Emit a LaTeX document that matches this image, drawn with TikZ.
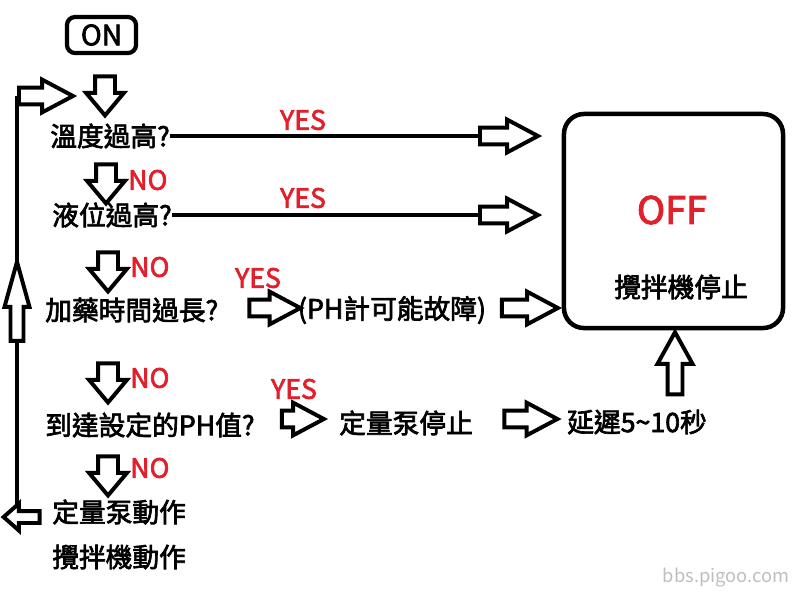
\documentclass[tikz,border=0pt]{standalone}
\usepackage{fontspec}
\setmainfont{Noto Sans CJK TC}[FakeBold=2.5]
\newfontfamily\markfont{Noto Sans CJK TC}
\usetikzlibrary{shapes.arrows,backgrounds}
\definecolor{yesred}{RGB}{226,32,44}
\definecolor{markgray}{RGB}{190,190,190}

\begin{document}
\begin{tikzpicture}[x=0.025cm,y=-0.025cm]
\tikzstyle{every node}+=[inner sep=0pt]
\tikzstyle{txt}=[font=\fontsize{19}{22}\selectfont]
\tikzstyle{ans}=[text=yesred,font=\fontsize{19}{22}\selectfont]
\tikzstyle{wire}=[line width=3pt]
\tikzstyle{panel}=[draw=black,line width=3pt,rounded corners=0.2cm]
\tikzstyle{blk}=[single arrow,draw=black,fill=white,line width=2.8pt,inner xsep=0pt,single arrow head indent=0pt]
\tikzstyle{harrow}=[blk,minimum height=1.45cm,inner ysep=0.16cm,single arrow head extend=0.2cm,single arrow tip angle=56]
\tikzstyle{varrow}=[blk,inner ysep=0pt]
\tikzstyle{darrow}=[varrow,minimum height=0.975cm,inner xsep=0.2cm,single arrow head extend=0.225cm,single arrow tip angle=80,shape border rotate=270]
\useasboundingbox (0,0) rectangle (799,600);
\node[panel,minimum width=1.725cm,minimum height=0.9cm,font=\fontsize{20}{22}\selectfont] (on) at (101.5,35) {ON};
\node[darrow] (d0) at (105,90) {};
\node[txt,anchor=west] (q1) at (50,136) {溫度過高?};
\node[harrow,anchor=tail] (y1) at (478,136) {};
\node[ans] (yes1) at (303,120) {YES};
\node[darrow] (d1) at (106,178) {};
\node[ans,anchor=west] (no1) at (128,180) {NO};
\node[txt,anchor=west] (q2) at (52,215) {液位過高?};
\node[harrow,anchor=tail] (y2) at (478,215) {};
\node[ans] (yes2) at (303,198) {YES};
\node[darrow] (d2) at (108,266) {};
\node[ans,anchor=west] (no2) at (130,267) {NO};
\node[txt,anchor=west] (q3) at (45,310) {加藥時間過長?};
\node[harrow,minimum height=1.275cm] (y3a) at (267,308) {};
\node[ans] (yes3) at (258,278) {YES};
\node[txt] (fault) at (392,310) {(PH計可能故障)};
\node[harrow,minimum height=1.4cm] (y3b) at (522,308) {};
\node[panel,line width=3.2pt,rounded corners=0.5cm,minimum width=5.475cm,minimum height=5.35cm] (off) at (673.5,221) {};
\node[text=yesred,font=\fontsize{27}{30}\selectfont] (offtxt) at (672,210) {OFF};
\node[txt] (mixstop) at (681,287) {攪拌機停止};
\node[varrow,minimum height=1.55cm,inner xsep=0.1375cm,single arrow head extend=0.25cm,single arrow tip angle=58,shape border rotate=90] (up2) at (675,370) {};
\node[darrow] (d3) at (108,377) {};
\node[ans,anchor=west] (no3) at (130,378) {NO};
\node[txt,anchor=west] (q4) at (45,425) {到達設定的PH值?};
\node[harrow,minimum height=1.05cm] (y4a) at (295,419) {};
\node[ans] (yes4) at (294,389) {YES};
\node[txt] (pumpstop) at (406,423) {定量泵停止};
\node[harrow,minimum height=1.325cm] (y4b) at (523,419) {};
\node[txt,anchor=west] (delay) at (567,422) {延遲5\textasciitilde10秒};
\node[darrow] (d4) at (108,470) {};
\node[ans,anchor=west] (no4) at (130,468) {NO};
\node[txt,anchor=west] (pumprun) at (52,512) {定量泵動作};
\node[txt,anchor=west] (mixrun) at (52,557) {攪拌機動作};
\node[blk,minimum height=0.9cm,inner ysep=0.1cm,single arrow head extend=0.19cm,single arrow tip angle=83,shape border rotate=180] (back) at (25,517) {};
\node[varrow,minimum height=1.975cm,inner xsep=0.1125cm,single arrow head extend=0.15cm,single arrow tip angle=31,shape border rotate=90] (up1) at (17,313) {};
\node[harrow,minimum height=1.35cm,anchor=tail] (again) at (17,96) {};
\node[text=markgray,font=\markfont\fontsize{13}{15}\selectfont] (mark) at (726,577) {bbs.pigoo.com};
\begin{scope}[on background layer]
\draw[wire] (q1.east) -- (y1.tail);
\draw[wire] (q2.east) -- (y2.tail);
\draw[wire,line width=3.5pt] (again.tail) -- (again.tail |- back.center);
\end{scope}
\end{tikzpicture}
\end{document}
